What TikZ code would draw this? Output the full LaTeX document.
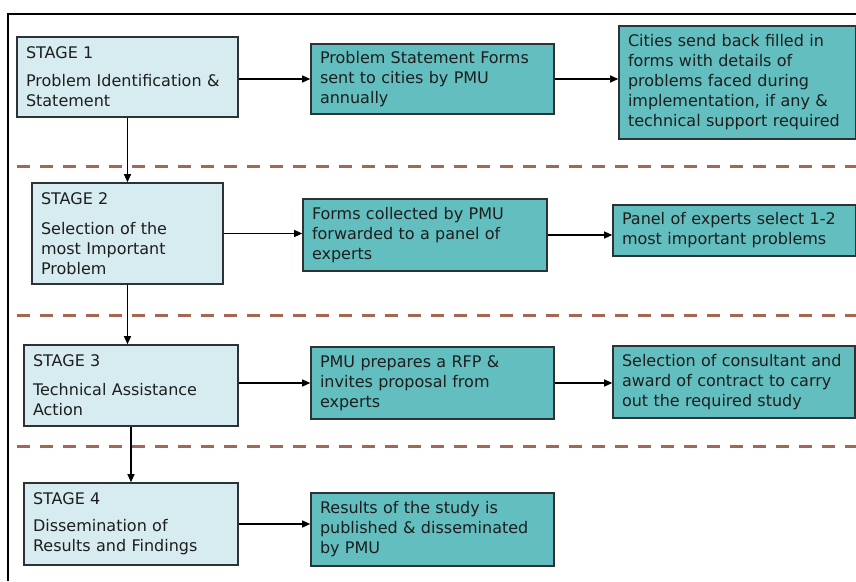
\documentclass[tikz,border=0pt]{standalone}
\usepackage{fontspec}
\setmainfont{DejaVu Sans}
\usetikzlibrary{arrows.meta}
\definecolor{stagefill}{RGB}{214,236,240}
\definecolor{taskfill}{RGB}{98,190,191}
\definecolor{boxline}{RGB}{45,50,52}
\definecolor{sepline}{RGB}{165,102,82}
\definecolor{inktext}{RGB}{30,30,30}
\begin{document}
\begin{tikzpicture}[x=1pt,y=-1pt,
  basebox/.style={draw=boxline, line width=1.6pt, inner xsep=9pt, inner ysep=0pt,
    align=left, text=inktext, anchor=center,
    font=\fontsize{16}{20}\selectfont},
  stagebox/.style={basebox, fill=stagefill},
  taskbox/.style={basebox, fill=taskfill},
  flow/.style={draw=black, line width=1.2pt, -{Triangle[length=8pt,width=7pt]}},
  divider/.style={draw=sepline, line width=3pt, dash pattern=on 13pt off 10pt}
]
\useasboundingbox (0,0) rectangle (856,581);
\fill[white] (0,0) rectangle (856,581);

% outer frame (top and left edges)
\draw[line width=2pt, black] (8,581) -- (8,14) -- (856,14);

% stage separators
\draw[divider] (17,166) -- (856,166);
\draw[divider] (17,315) -- (856,315);
\draw[divider] (17,446) -- (856,446);

% stage boxes
\node[stagebox, text width=203pt, minimum height=80pt] (s1) at (127.5,77)
  {STAGE 1\\[8pt]Problem Identification \&\\Statement};
\node[stagebox, text width=173pt, minimum height=101pt] (s2) at (127.5,233.5)
  {STAGE 2\\[10pt]Selection of the\\most Important\\Problem};
\node[stagebox, text width=196pt, minimum height=81pt] (s3) at (131,385.5)
  {STAGE 3\\[9pt]Technical Assistance\\Action};
\node[stagebox, text width=196pt, minimum height=82pt] (s4) at (131,524)
  {STAGE 4\\[7pt]Dissemination of\\Results and Findings};

% action boxes
\node[taskbox, text width=225pt, minimum height=70pt] (a1) at (432.5,79)
  {Problem Statement Forms\\sent to cities by PMU\\annually};
\node[taskbox, text width=219pt, minimum height=113pt] (a2) at (737.5,82.5)
  {Cities send back filled in\\forms with details of\\problems faced during\\implementation, if any \&\\technical support required};
\node[taskbox, text width=226pt, minimum height=72pt] (b1) at (425,235)
  {Forms collected by PMU\\forwarded to a panel of\\experts};
\node[taskbox, text width=225pt, minimum height=51pt] (b2) at (734.5,230.5)
  {Panel of experts select 1-2\\most important problems};
\node[taskbox, text width=225pt, minimum height=72pt] (c1) at (432.5,383)
  {PMU prepares a RFP \&\\invites proposal from\\experts};
\node[taskbox, text width=224pt, minimum height=72pt] (c2) at (734,382)
  {Selection of consultant and\\award of contract to carry\\out the required study};
\node[taskbox, text width=225pt, minimum height=73pt] (d1) at (432.5,529.5)
  {Results of the study is\\published \& disseminated\\by PMU};

% stage to stage
\draw[flow] (s1.south) -- (s2.north);
\draw[flow] (s2.south) -- (s2.south |- s3.north);
\draw[flow] (s3.south) -- (s4.north);

% horizontal flow within each stage
\draw[flow] (s1.east |- a1.west) -- (a1.west);
\draw[flow] (a1.east) -- (a1.east -| a2.west);
\draw[flow] (s2.east) -- (s2.east -| b1.west);
\draw[flow] (b1.east) -- (b1.east -| b2.west);
\draw[flow] (s3.east |- c1.west) -- (c1.west);
\draw[flow] (c1.east) -- (c1.east -| c2.west);
\draw[flow] (s4.east) -- (s4.east -| d1.west);
\end{tikzpicture}
\end{document}
